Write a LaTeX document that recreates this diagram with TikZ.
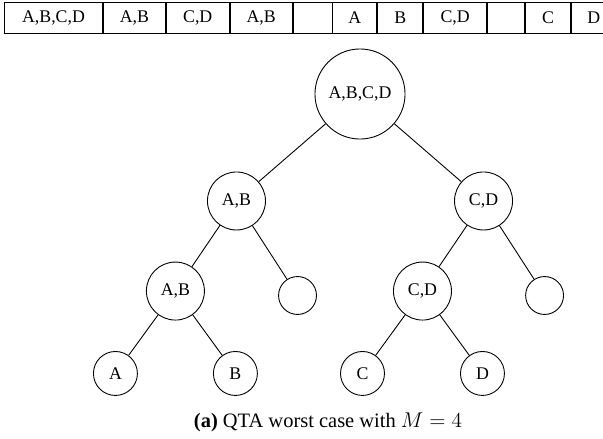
\documentclass[tikz,border=0pt]{standalone}
\usepackage{fontspec}
\setmainfont{Liberation Serif}
\usetikzlibrary{positioning}

\begin{document}
\begin{tikzpicture}[
  x=0.5618pt, y=-0.5618pt,
  every node/.style={font=\fontsize{10}{12}\selectfont},
  cell/.style={draw, line width=0.5pt, minimum height=17.4pt, inner sep=0pt},
  tnode/.style={draw, circle, inner sep=0pt, line width=0.5pt, on grid},
  big/.style={tnode, minimum size=50.6pt},
  mid/.style={tnode, minimum size=32.6pt},
  leaf/.style={tnode, minimum size=24.7pt},
  hole/.style={tnode, minimum size=21.3pt}
]
\useasboundingbox (0,0) rectangle (603,438);

% array of the tree, level by level
\node[cell, minimum width=55.1pt, anchor=west] (c1) at (4,17.5) {A,B,C,D};
\node[cell, minimum width=34.8pt, right=0pt of c1] (c2) {A,B};
\node[cell, minimum width=35.4pt, right=0pt of c2] (c3) {C,D};
\node[cell, minimum width=34.8pt, right=0pt of c3] (c4) {A,B};
\node[cell, minimum width=21.9pt, right=0pt of c4] (c5) {};
\node[cell, minimum width=24.7pt, right=0pt of c5] (c6) {A};
\node[cell, minimum width=25.3pt, right=0pt of c6] (c7) {B};
\node[cell, minimum width=35.4pt, right=0pt of c7] (c8) {C,D};
\node[cell, minimum width=20.8pt, right=0pt of c8] (c9) {};
\node[cell, minimum width=25.3pt, right=0pt of c9] (c10) {C};
\node[cell, minimum width=25.3pt, right=0pt of c10] (c11) {D};

% the tree
\node[big] (root) at (360,94) {A,B,C,D};
\node[mid, below left=60.1pt and 69.4pt of root] (ab) {A,B};
\node[mid, below right=60.1pt and 69.4pt of root] (cd) {C,D};
\node[mid, below left=50.6pt and 34.3pt of ab] (ab2) {A,B};
\node[hole, below right=53.1pt and 34.3pt of ab] (e1) {};
\node[mid, below left=50.6pt and 34.3pt of cd] (cd2) {C,D};
\node[hole, below right=53.1pt and 34.3pt of cd] (e2) {};
\node[leaf, below left=46.3pt and 33.7pt of ab2] (a) {A};
\node[leaf, below right=46.3pt and 33.7pt of ab2] (b) {B};
\node[leaf, below left=46.3pt and 33.7pt of cd2] (c) {C};
\node[leaf, below right=46.3pt and 33.7pt of cd2] (d) {D};

\foreach \p/\q in {root/ab, root/cd, ab/ab2, ab/e1, cd/cd2, cd/e2, ab2/a, ab2/b, cd2/c, cd2/d}
  \draw[line width=0.5pt] (\p) -- (\q);

\node[font=\fontsize{11.5}{14}\selectfont] (cap) at (328,422) {\textbf{(a)} QTA worst case with $M=4$};

\end{tikzpicture}
\end{document}
